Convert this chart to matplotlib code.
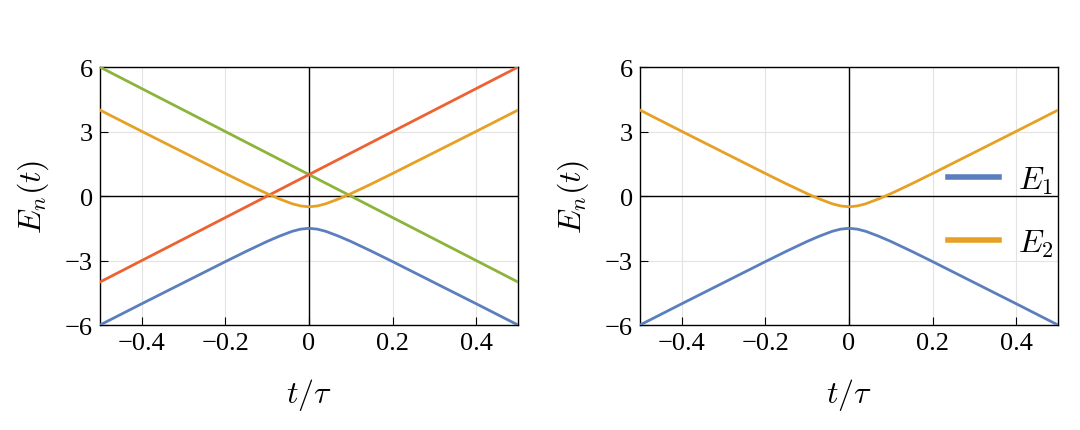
import matplotlib
matplotlib.use('Agg')
import matplotlib.pyplot as plt

# time axis samples (t / tau) and energies
t = [-0.5, -0.4, -0.3, -0.2, -0.15, -0.1, -0.07, -0.04, -0.02, 0.0,
     0.02, 0.04, 0.07, 0.1, 0.15, 0.2, 0.3, 0.4, 0.5]
E1 = [-6.0, -5.01, -4.03, -3.05, -2.57, -2.11, -1.86, -1.64, -1.54, -1.5,
      -1.54, -1.64, -1.86, -2.11, -2.57, -3.05, -4.03, -5.01, -6.0]
E2 = [4.0, 3.01, 2.03, 1.05, 0.57, 0.11, -0.14, -0.36, -0.46, -0.5,
      -0.46, -0.36, -0.14, 0.11, 0.57, 1.05, 2.03, 3.01, 4.0]
t_lin = [-0.5, 0.5]
E_up = [-4.0, 6.0]
E_down = [6.0, -4.0]

yticks = [-6, -3, 0, 3, 6]
xticks = [-0.4, -0.2, 0, 0.2, 0.4]
xticklabels = ['\u22120.4', '\u22120.2', '0', '0.2', '0.4']
yticklabels = ['\u22126', '\u22123', '0', '3', '6']

c_blue = '#5b7fbd'
c_orange = '#e6a125'
c_red = '#ee6232'
c_green = '#8db43a'

plt.rcParams['font.family'] = 'Liberation Serif'
plt.rcParams['mathtext.fontset'] = 'cm'

fig = plt.figure(figsize=(10.8, 4.31), dpi=100)
ax1 = fig.add_axes([0.0926, 0.2436, 0.387, 0.5984])
ax2 = fig.add_axes([0.5926, 0.2436, 0.387, 0.5984])

for ax in (ax1, ax2):
    ax.axhline(0, color='black', lw=1.0, zorder=2)
    ax.axvline(0, color='black', lw=1.0, zorder=2)
    ax.grid(True, color='#e3e3e3', lw=0.8)
    ax.set_xlim(-0.5, 0.5)
    ax.set_ylim(-6, 6)
    ax.set_xticks(xticks)
    ax.set_xticklabels(xticklabels)
    ax.set_yticks(yticks)
    ax.set_yticklabels(yticklabels)
    ax.tick_params(direction='in', length=6, width=0.8, labelsize=19, pad=5)
    ax.set_xlabel(r'$t/\tau$', fontsize=23, labelpad=16)
    ax.set_ylabel(r'$E_n(t)$', fontsize=23, labelpad=10)
    for s in ax.spines.values():
        s.set_linewidth(1.0)

ax1.plot(t_lin, E_down, color=c_green, lw=2, zorder=3)
ax1.plot(t_lin, E_up, color=c_red, lw=2, zorder=3)
ax1.plot(t, E2, color=c_orange, lw=2, zorder=3)
ax1.plot(t, E1, color=c_blue, lw=2, zorder=3)

ax2.plot(t, E1, color=c_blue, lw=2, zorder=3, label=r'$E_1$')
ax2.plot(t, E2, color=c_orange, lw=2, zorder=3, label=r'$E_2$')
ax2.legend(loc='center right', frameon=False, fontsize=23, handlelength=1.6,
           labelspacing=1.0, handletextpad=0.6, borderaxespad=0.0,
           bbox_to_anchor=(1.02, 0.44))
for line in ax2.get_legend().get_lines():
    line.set_linewidth(4)

fig.savefig('out.png', dpi=100)
